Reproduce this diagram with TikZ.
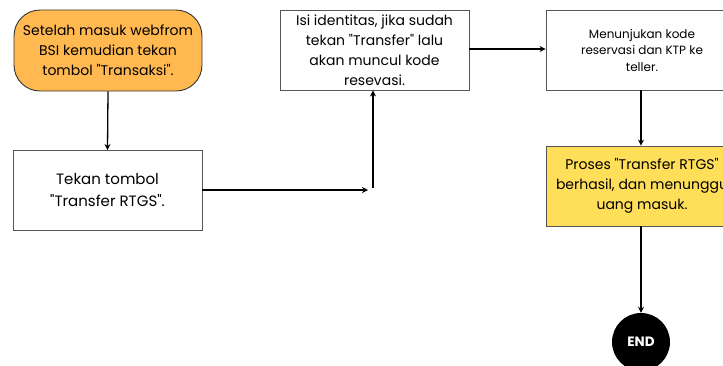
\documentclass[tikz,border=0pt]{standalone}
\usepackage{fontspec}
\setmainfont{Poppins}[Ligatures=TeXOff]
\usetikzlibrary{arrows.meta}
\definecolor{startfill}{HTML}{FFB950}
\definecolor{donefill}{HTML}{FFDE59}
\definecolor{edge}{HTML}{555555}
\tikzset{
  box/.style={draw=edge, line width=0.9pt, minimum width=189pt, minimum height=80pt,
    align=center, inner sep=0pt, font=\fontsize{14}{20}\selectfont},
  smallbox/.style={box, font=\fontsize{12}{16.5}\selectfont},
  link/.style={line width=1.3pt, -{Stealth[length=6pt,width=6pt]}},
}
\begin{document}
\begin{tikzpicture}[x=1pt,y=-1pt]
  \useasboundingbox (0,0) rectangle (723,365);
  \fill[white] (0,0) rectangle (723,365);

  \node[box, fill=startfill, draw=black!80, rounded corners=26pt, minimum width=188pt, minimum height=81pt]
    (start) at (108,50.5) {Setelah masuk webfrom\\BSI kemudian tekan\\tombol "Transaksi".};
  \node[box, font=\fontsize{15}{22}\selectfont] (rtgs) at (107.5,190.5) {Tekan tombol\\"Transfer RTGS".};
  \node[box] (ident) at (374.5,50) {Isi identitas, jika sudah\\tekan "Transfer" lalu\\akan muncul kode\\resevasi.};
  \node[smallbox, minimum width=192pt] (show) at (642,50) {Menunjukan kode\\reservasi dan KTP ke\\teller.};
  \node[box, fill=donefill, minimum width=192pt] (done) at (642,186) {Proses "Transfer RTGS"\\berhasil, dan menunggu\\uang masuk.};
  \node[circle, fill=black, minimum size=58pt, inner sep=0pt, text=white,
    font=\fontsize{13.5}{15}\selectfont\bfseries] (end) at (641,342) {END};

  \coordinate (bend) at (368,190);
  \coordinate (rise) at (373,188);

  \draw[link] (start.south) -- (rtgs.north);
  \draw[link] (rtgs.east |- 0,190) -- (bend);
  \draw[link] (rise) -- (rise |- ident.south);
  \draw[link] (ident.east |- 0,49) -- (show.west |- 0,49);
  \draw[link] (show.south -| 641,0) -- (done.north -| 641,0);
  \draw[link] (done.south -| 641,0) -- (end.north);
\end{tikzpicture}
\end{document}
